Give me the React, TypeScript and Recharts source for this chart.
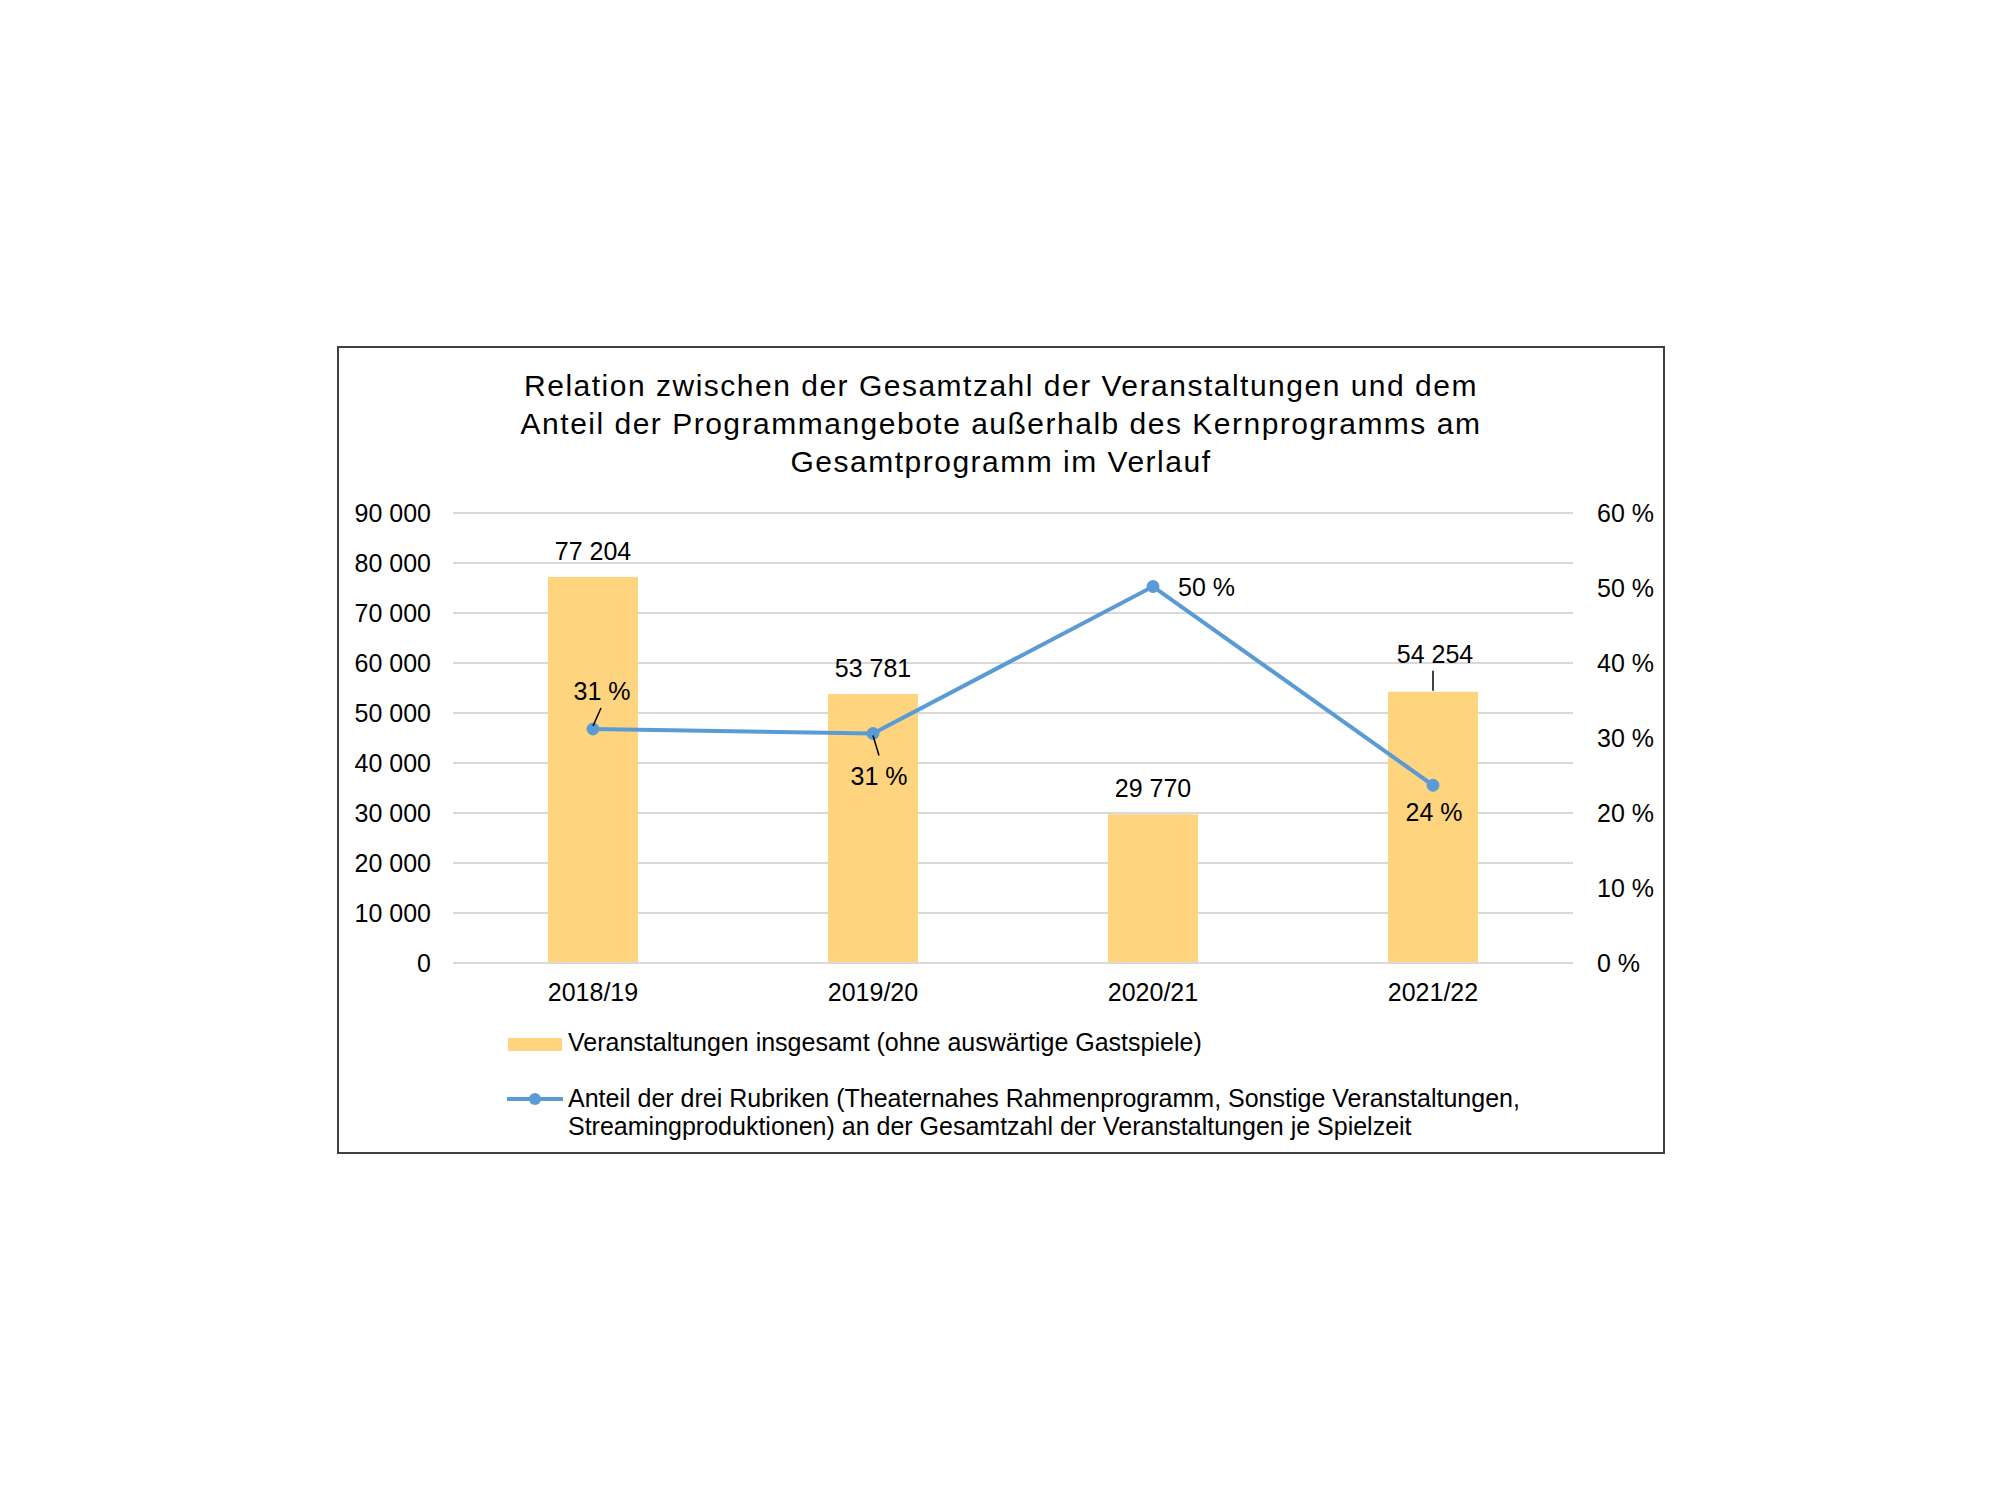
import React from "react"
import { Bar, CartesianGrid, ComposedChart, LabelList, Line, XAxis, YAxis } from "recharts"

const seasons = ["2018/19", "2019/20", "2020/21", "2021/22"]
const eventsTotal = [77204, 53781, 29770, 54254]
const sharePercent = [31.2, 30.6, 50.2, 23.7]
const leftTicks = [0, 10000, 20000, 30000, 40000, 50000, 60000, 70000, 80000, 90000]
const rightTicks = [0, 10, 20, 30, 40, 50, 60]

const titleLines = [
  "Relation zwischen der Gesamtzahl der Veranstaltungen und dem",
  "Anteil der Programmangebote außerhalb des Kernprogramms am",
  "Gesamtprogramm im Verlauf",
]
const barName = "Veranstaltungen insgesamt (ohne auswärtige Gastspiele)"
const lineNameLines = [
  "Anteil der drei Rubriken (Theaternahes Rahmenprogramm, Sonstige Veranstaltungen,",
  "Streamingproduktionen) an der Gesamtzahl der Veranstaltungen je Spielzeit",
]

const data = seasons.map((season, i) => ({
  season,
  events: eventsTotal[i],
  share: sharePercent[i],
}))

const FONT = "'Liberation Sans', Arial, sans-serif"
const BAR_COLOR = "#FFD47F"
const LINE_COLOR = "#5B9BD5"
const GRID_COLOR = "#D9D9D9"

const fmtThousands = (v: number) => String(v).replace(/\B(?=(\d{3})+(?!\d))/g, " ")
const fmtPct = (v: number) => `${Math.round(v)} %`

// where Excel put each percentage label relative to its point
const pctPlacement = [
  { dx: 9, dy: -29, anchor: "middle", leader: [0, -3, 8, -21] },
  { dx: 6, dy: 51, anchor: "middle", leader: [0, 2, 6, 22] },
  { dx: 25, dy: 9, anchor: "start", leader: null },
  { dx: 1, dy: 36, anchor: "middle", leader: null },
]

const BarValueLabel = (props: any) => {
  const { x, y, width, value, index } = props
  const cx = x + width / 2
  const raised = index === 3
  return (
    <g>
      {raised && <line x1={cx} x2={cx} y1={y - 21} y2={y - 1} stroke="#000" strokeWidth={1.5} />}
      <text
        x={cx + (raised ? 2 : 0)}
        y={y - (raised ? 29 : 17)}
        textAnchor="middle"
        fontSize={25}
        fontFamily={FONT}
        fill="#000"
      >
        {fmtThousands(value)}
      </text>
    </g>
  )
}

const PctLabel = (props: any) => {
  const { x, y, value, index } = props
  const p = pctPlacement[index]
  return (
    <g>
      {p.leader && (
        <line
          x1={x + p.leader[0]}
          y1={y + p.leader[1]}
          x2={x + p.leader[2]}
          y2={y + p.leader[3]}
          stroke="#000"
          strokeWidth={1.5}
        />
      )}
      <text
        x={x + p.dx}
        y={y + p.dy}
        textAnchor={p.anchor as any}
        fontSize={25}
        fontFamily={FONT}
        fill="#000"
      >
        {fmtPct(value)}
      </text>
    </g>
  )
}

const tickStyle = { fill: "#000", fontSize: 25, fontFamily: FONT }

export default function App() {
  return (
    <div style={{ position: "absolute", left: 0, top: 0, width: 2000, height: 1500, background: "#fff", fontFamily: FONT }}>
      <div
        style={{
          position: "absolute",
          left: 337,
          top: 346,
          width: 1328,
          height: 808,
          border: "2px solid #404040",
          boxSizing: "border-box",
        }}
      />
      <div
        style={{
          position: "absolute",
          left: 337,
          top: 367,
          width: 1328,
          textAlign: "center",
          fontSize: 30,
          lineHeight: "38px",
          letterSpacing: 1.5,
          color: "#000",
        }}
      >
        {titleLines.map((t) => (
          <div key={t}>{t}</div>
        ))}
      </div>

      <div style={{ position: "absolute", left: 0, top: 0 }}>
        <ComposedChart
          width={2000}
          height={1500}
          data={data}
          margin={{ top: 513, left: 353, right: 327, bottom: 477 }}
        >
          <CartesianGrid yAxisId="left" vertical={false} stroke={GRID_COLOR} strokeWidth={2} />
          <XAxis
            dataKey="season"
            tickLine={false}
            axisLine={{ stroke: GRID_COLOR, strokeWidth: 2 }}
            tickSize={0}
            tickMargin={20}
            height={60}
            tick={tickStyle}
          />
          <YAxis
            yAxisId="left"
            orientation="left"
            width={100}
            domain={[0, 90000]}
            ticks={leftTicks}
            tickFormatter={fmtThousands}
            axisLine={false}
            tickLine={false}
            tickSize={0}
            tickMargin={22}
            tick={tickStyle}
            interval={0}
          />
          <YAxis
            yAxisId="right"
            orientation="right"
            width={100}
            domain={[0, 60]}
            ticks={rightTicks}
            tickFormatter={(v: number) => `${v} %`}
            axisLine={false}
            tickLine={false}
            tickSize={0}
            tickMargin={24}
            tick={{ ...tickStyle, textAnchor: "start" }}
            interval={0}
          />
          <Bar yAxisId="left" dataKey="events" name={barName} fill={BAR_COLOR} barSize={90} isAnimationActive={false}>
            <LabelList dataKey="events" content={BarValueLabel} />
          </Bar>
          <Line
            yAxisId="right"
            dataKey="share"
            name={lineNameLines.join(" ")}
            stroke={LINE_COLOR}
            strokeWidth={4}
            dot={{ r: 6, fill: LINE_COLOR, stroke: LINE_COLOR, strokeWidth: 1 }}
            activeDot={false}
            isAnimationActive={false}
          >
            <LabelList dataKey="share" content={PctLabel} />
          </Line>
        </ComposedChart>
      </div>

      {/* legend */}
      <div style={{ position: "absolute", left: 508, top: 1029, fontSize: 25, lineHeight: "27px", color: "#000" }}>
        <div style={{ display: "flex", alignItems: "flex-start" }}>
          <div style={{ width: 54, height: 13, background: BAR_COLOR, marginTop: 9, marginRight: 6 }} />
          <div>{barName}</div>
        </div>
      </div>
      <div style={{ position: "absolute", left: 507, top: 1084, fontSize: 25, lineHeight: "28px", color: "#000" }}>
        <div style={{ display: "flex", alignItems: "flex-start" }}>
          <svg width={56} height={28} style={{ marginRight: 5, flexShrink: 0 }}>
            <line x1={0} x2={56} y1={15} y2={15} stroke={LINE_COLOR} strokeWidth={4} />
            <circle cx={28} cy={15} r={6} fill={LINE_COLOR} />
          </svg>
          <div>
            {lineNameLines.map((t) => (
              <div key={t} style={{ whiteSpace: "nowrap" }}>{t}</div>
            ))}
          </div>
        </div>
      </div>
    </div>
  )
}
